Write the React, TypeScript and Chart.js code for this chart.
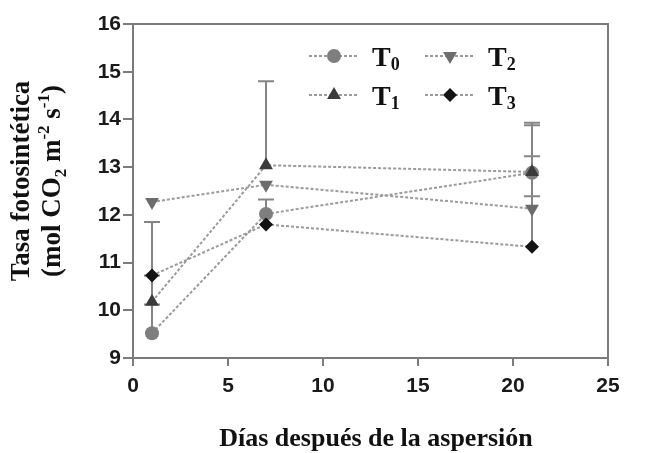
import React, { useEffect, useRef } from "react";
import { Chart, registerables } from "chart.js";

Chart.register(...registerables);

// ---- data ----
const days = [1, 7, 21];
const seriesLabels = ["0", "1", "2", "3"]; // subscripts of T
const t0 = [9.52, 12.02, 12.88];
const t1 = [10.18, 13.04, 12.9];
const t2 = [12.27, 12.63, 12.13];
const t3 = [10.73, 11.8, 11.33];
const t0Err = [0.6, 0.3, 1.0];
const t1Err = [0.55, 1.76, 1.03];
const t2Err = [0, 0, 1.1];
const t3Err = [1.12, 0, 1.06];
const xTickValues = [0, 5, 10, 15, 20, 25];
const yTickValues = [9, 10, 11, 12, 13, 14, 15, 16];
const xTitle = "Días después de la aspersión";
const yTitleLine1 = "Tasa fotosintética";

const AXIS = "#7b7b7b";
const LINE = "#9a9a9a";
const SERIF = "'Liberation Serif', 'Times New Roman', serif";
const SANS = "'Liberation Sans', Arial, sans-serif";

const styles = [
  { color: "#7e7e7e", pointStyle: "circle", rotation: 0, radius: 7, order: 3 },
  { color: "#3b3b3b", pointStyle: "triangle", rotation: 0, radius: 8, order: 0 },
  { color: "#6c6c6c", pointStyle: "triangle", rotation: 180, radius: 8, order: 2 },
  { color: "#141414", pointStyle: "rectRot", rotation: 0, radius: 7, order: 1 },
];
const values = [t0, t1, t2, t3];
const errors = [t0Err, t1Err, t2Err, t3Err];

function drawMarker(ctx: CanvasRenderingContext2D, x: number, y: number, st: any) {
  const r = st.radius;
  ctx.save();
  ctx.fillStyle = st.color;
  ctx.beginPath();
  if (st.pointStyle === "circle") {
    ctx.arc(x, y, r, 0, Math.PI * 2);
  } else if (st.pointStyle === "rectRot") {
    ctx.moveTo(x, y - r);
    ctx.lineTo(x + r, y);
    ctx.lineTo(x, y + r);
    ctx.lineTo(x - r, y);
  } else {
    const s = st.rotation === 180 ? -1 : 1;
    const h = r * 1.5;
    ctx.moveTo(x, y - s * r);
    ctx.lineTo(x + r * 0.87, y - s * r + s * h);
    ctx.lineTo(x - r * 0.87, y - s * r + s * h);
  }
  ctx.closePath();
  ctx.fill();
  ctx.restore();
}

type Seg = { t: string; k: "n" | "sub" | "sup" };

function drawSegs(ctx: CanvasRenderingContext2D, segs: Seg[], cx: number, cy: number, size: number, small: number) {
  const big = `bold ${size}px ${SERIF}`;
  const sm = `bold ${small}px ${SERIF}`;
  let total = 0;
  for (const s of segs) {
    ctx.font = s.k === "n" ? big : sm;
    total += ctx.measureText(s.t).width;
  }
  let x = cx - total / 2;
  ctx.textBaseline = "alphabetic";
  ctx.textAlign = "left";
  for (const s of segs) {
    ctx.font = s.k === "n" ? big : sm;
    const dy = s.k === "sub" ? size * 0.22 : s.k === "sup" ? -size * 0.4 : 0;
    ctx.fillText(s.t, x, cy + dy);
    x += ctx.measureText(s.t).width;
  }
}

const decorPlugin = {
  id: "decor",
  beforeDatasetsDraw(chart: any) {
    const { ctx, chartArea } = chart;
    const ys = chart.scales.y;
    ctx.save();
    ctx.strokeStyle = AXIS;
    ctx.lineWidth = 2;
    ctx.beginPath();
    ctx.moveTo(chartArea.left, chartArea.top);
    ctx.lineTo(chartArea.right, chartArea.top);
    ctx.lineTo(chartArea.right, chartArea.bottom);
    ctx.stroke();
    // error bars
    ctx.strokeStyle = "#858585";
    ctx.lineWidth = 2;
    values.forEach((vals, i) => {
      const meta = chart.getDatasetMeta(i);
      vals.forEach((v, j) => {
        const e = errors[i][j];
        if (!e) return;
        const el = meta.data[j];
        const y0 = ys.getPixelForValue(v);
        const y1 = ys.getPixelForValue(v + e);
        ctx.beginPath();
        ctx.moveTo(el.x, y0);
        ctx.lineTo(el.x, y1);
        ctx.moveTo(el.x - 8, y1);
        ctx.lineTo(el.x + 8, y1);
        ctx.stroke();
      });
    });
    ctx.restore();
  },
  afterDraw(chart: any) {
    const { ctx } = chart;
    ctx.save();
    ctx.fillStyle = "#111";
    // y title (rotated)
    ctx.save();
    ctx.translate(29, 181);
    ctx.rotate(-Math.PI / 2);
    drawSegs(ctx, [{ t: yTitleLine1, k: "n" }], 0, 0, 27, 17);
    drawSegs(
      ctx,
      [
        { t: "(mol CO", k: "n" },
        { t: "2", k: "sub" },
        { t: " m", k: "n" },
        { t: "-2", k: "sup" },
        { t: " s", k: "n" },
        { t: "-1", k: "sup" },
        { t: ")", k: "n" },
      ],
      0,
      31,
      27,
      17
    );
    ctx.restore();
    // x title
    drawSegs(ctx, [{ t: xTitle, k: "n" }], 376, 446, 26, 16);
    // legend
    const pos = [
      { x: 309, y: 56 },
      { x: 309, y: 95 },
      { x: 425, y: 56 },
      { x: 425, y: 95 },
    ];
    pos.forEach((p, i) => {
      ctx.save();
      ctx.strokeStyle = LINE;
      ctx.lineWidth = 2;
      ctx.setLineDash([3, 2]);
      ctx.beginPath();
      ctx.moveTo(p.x, p.y);
      ctx.lineTo(p.x + 50, p.y);
      ctx.stroke();
      ctx.restore();
      drawMarker(ctx, p.x + 25, p.y, styles[i]);
      ctx.fillStyle = "#111";
      ctx.font = `bold 28px ${SERIF}`;
      ctx.textAlign = "left";
      ctx.textBaseline = "alphabetic";
      ctx.fillText("T", p.x + 63, p.y + 10);
      const w = ctx.measureText("T").width;
      ctx.font = `bold 18px ${SERIF}`;
      ctx.fillText(seriesLabels[i], p.x + 63 + w, p.y + 14);
    });
    ctx.restore();
  },
};

export default function App() {
  const ref = useRef<HTMLCanvasElement | null>(null);
  useEffect(() => {
    if (!ref.current) return;
    const chart = new Chart(ref.current, {
      type: "line",
      data: {
        datasets: values.map((vals, i) => ({
          label: "T" + seriesLabels[i],
          data: days.map((d, j) => ({ x: d, y: vals[j] })),
          order: styles[i].order,
          borderColor: LINE,
          borderWidth: 2,
          borderDash: [3, 2],
          backgroundColor: styles[i].color,
          pointBackgroundColor: styles[i].color,
          pointBorderColor: styles[i].color,
          pointBorderWidth: 0,
          pointStyle: styles[i].pointStyle as any,
          pointRotation: styles[i].rotation,
          pointRadius: styles[i].radius,
          tension: 0,
        })),
      },
      options: {
        animation: false,
        responsive: true,
        maintainAspectRatio: false,
        layout: { padding: { left: 0, right: 38, top: 24, bottom: 0 } },
        plugins: { legend: { display: false }, tooltip: { enabled: false } },
        scales: {
          x: {
            type: "linear",
            min: 0,
            max: 25,
            afterBuildTicks: (s: any) => {
              s.ticks = xTickValues.map((v) => ({ value: v }));
            },
            afterFit: (s: any) => {
              s.height = 95;
            },
            ticks: { font: { family: SANS, size: 21, weight: "bold" }, color: "#1a1a1a", padding: 8 },
            grid: { drawOnChartArea: false, drawTicks: true, tickLength: 8, color: AXIS, lineWidth: 2 },
            border: { display: true, color: AXIS, width: 2 },
          },
          y: {
            type: "linear",
            min: 9,
            max: 16,
            afterBuildTicks: (s: any) => {
              s.ticks = yTickValues.map((v) => ({ value: v }));
            },
            afterFit: (s: any) => {
              s.width = 133;
            },
            ticks: { font: { family: SANS, size: 21, weight: "bold" }, color: "#1a1a1a", padding: 2 },
            grid: { drawOnChartArea: false, drawTicks: true, tickLength: 10, color: AXIS, lineWidth: 2 },
            border: { display: true, color: AXIS, width: 2 },
          },
        },
      },
      plugins: [decorPlugin],
    });
    return () => chart.destroy();
  }, []);
  return (
    <div style={{ position: "fixed", left: 0, top: 0, width: 646, height: 453, background: "#fff" }}>
      <canvas ref={ref} />
    </div>
  );
}
